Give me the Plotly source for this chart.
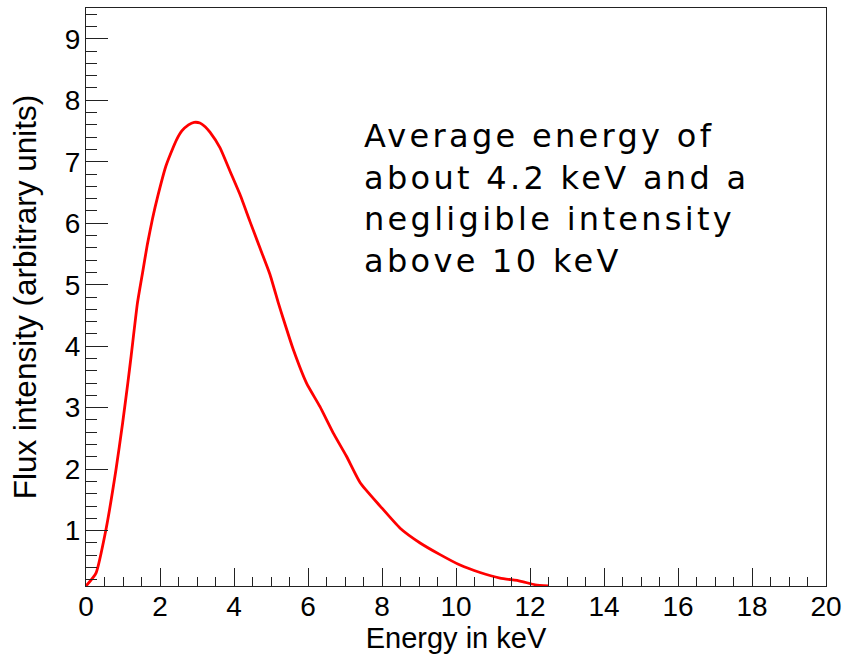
import plotly.graph_objects as go

# Spectrum
energy_kev = [0.0, 0.27, 0.54, 0.81, 0.99, 1.13, 1.22, 1.39, 1.53, 1.66, 1.80, 1.94,
              2.16, 2.30, 2.45, 2.59, 2.77, 2.92, 3.08, 3.22, 3.35, 3.62, 3.89, 4.16, 4.43,
              4.70, 4.97, 5.20, 5.33, 5.6, 5.96, 6.32, 6.68, 7.04, 7.41, 7.95, 8.49,
              9.03, 9.57, 10.11, 10.65, 11.19, 11.73, 12.14, 12.5]
flux = [0.1, 0.31, 1.02, 1.99, 2.75, 3.40, 3.84, 4.70, 5.20, 5.66, 6.08, 6.44,
        6.93, 7.15, 7.36, 7.50, 7.60, 7.64, 7.63, 7.57, 7.48, 7.23, 6.85, 6.47, 6.03,
        5.60, 5.17, 4.70, 4.45, 3.95, 3.40, 3.02, 2.59, 2.21, 1.78, 1.40, 1.04,
        0.80, 0.61, 0.44, 0.32, 0.23, 0.18, 0.12, 0.1]

x_title = "Energy in keV"
y_title = "Flux intensity (arbitrary units)"
note_lines = ["Average energy of", "about 4.2 keV and a",
              "negligible intensity", "above 10 keV"]

fig = go.Figure()
fig.add_trace(go.Scatter(x=energy_kev, y=flux, mode="lines",
                         line=dict(color="#ff0000", width=2.8, shape="spline", smoothing=0.5),
                         showlegend=False, hoverinfo="skip"))

axis_font = dict(family="Liberation Sans, Arial, sans-serif", size=28, color="black")

fig.update_layout(
    width=843, height=656,
    margin=dict(l=86, r=17, t=8, b=70),
    paper_bgcolor="white", plot_bgcolor="white",
    xaxis=dict(range=[0, 20], tick0=0, dtick=2, ticks="inside", ticklen=18,
               tickwidth=1, tickcolor="#222", showline=True, linecolor="#222",
               linewidth=1, mirror=True, showgrid=False, zeroline=False,
               tickfont=axis_font, ticklabelstandoff=-5, automargin=False,
               minor=dict(dtick=0.5, ticks="inside", ticklen=9, tickcolor="#222",
                          tickwidth=1, showgrid=False),
               title=dict(text=x_title, standoff=6,
                          font=dict(family="Liberation Sans, Arial, sans-serif",
                                    size=29, color="black"))),
    yaxis=dict(range=[0.1, 9.5], tick0=0, dtick=1, ticks="inside", ticklen=22,
               tickwidth=1, tickcolor="#222", showline=True, linecolor="#222",
               linewidth=1, mirror=True, showgrid=False, zeroline=False,
               tickfont=axis_font, ticklabelstandoff=-1, automargin=False,
               minor=dict(dtick=0.2, ticks="inside", ticklen=11, tickcolor="#222",
                          tickwidth=1, showgrid=False),
               title=dict(text=y_title, standoff=18,
                          font=dict(family="Liberation Sans, Arial, sans-serif",
                                    size=31.5, color="black"))),
)

fig.add_annotation(
    xref="paper", yref="paper", x=0.3726, y=0.815, xanchor="left", yanchor="top",
    align="left", showarrow=False,
    text="<br>".join('<span style="letter-spacing:3.3px">' + s + "</span>" for s in note_lines),
    font=dict(family="DejaVu Sans, sans-serif", size=32, color="black"),
)

fig.write_html("out.html")
